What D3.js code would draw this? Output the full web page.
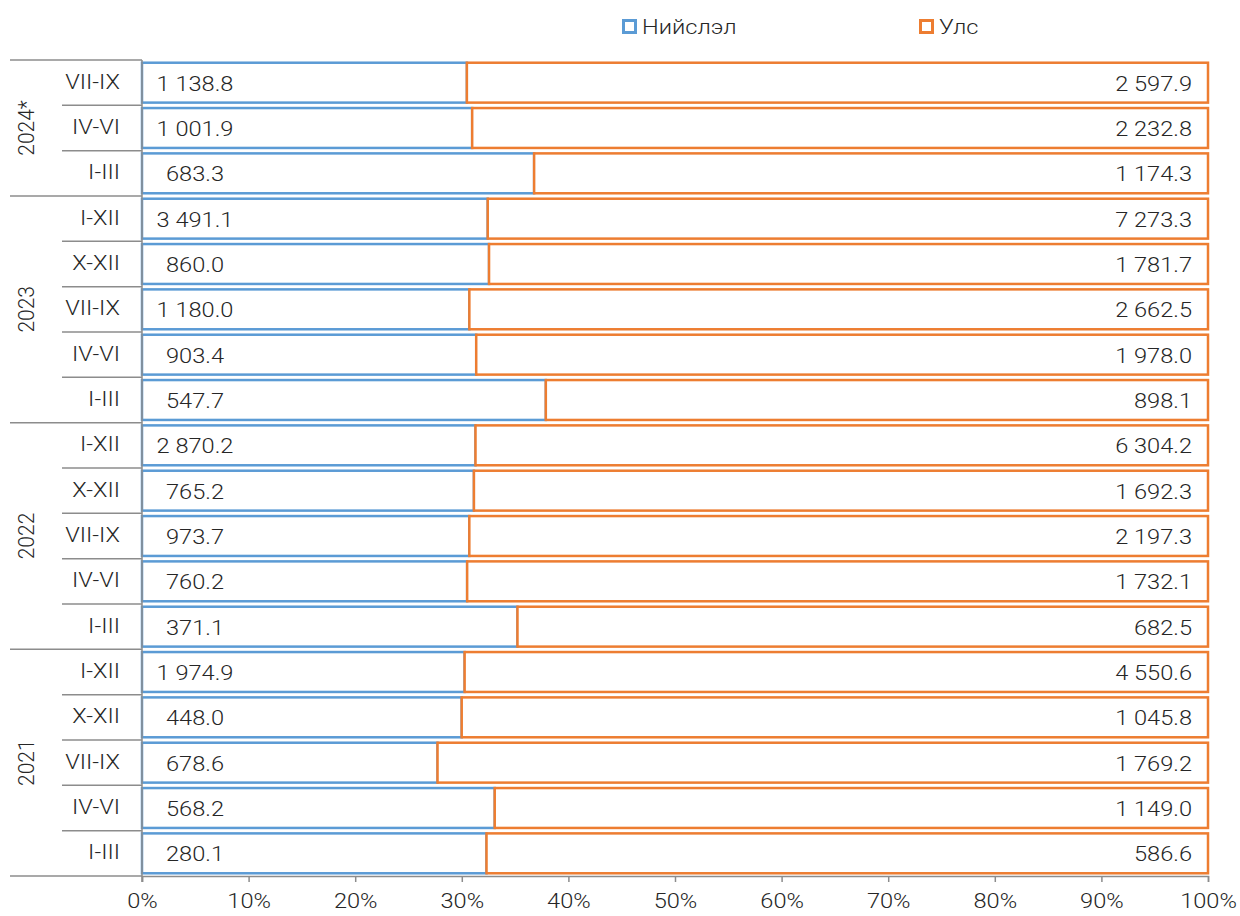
<!DOCTYPE html>
<html>
<head>
<meta charset="utf-8">
<script src="https://cdn.jsdelivr.net/npm/d3@7"></script>
<style>
  body { margin: 0; background: #fff; }
  text { font-family: Roboto, "Open Sans", sans-serif; font-weight: 300; fill: #262626; }
</style>
</head>
<body>
<svg id="chart" width="1240" height="916"></svg>
<script>
// rows top to bottom
let years = ["2024*", "2023", "2022", "2021"];
let yearSizes = [3, 5, 5, 5];
let periods = ["VII-IX", "IV-VI", "I-III",
               "I-XII", "X-XII", "VII-IX", "IV-VI", "I-III",
               "I-XII", "X-XII", "VII-IX", "IV-VI", "I-III",
               "I-XII", "X-XII", "VII-IX", "IV-VI", "I-III"];
let capital = [1138.8, 1001.9, 683.3,
               3491.1, 860.0, 1180.0, 903.4, 547.7,
               2870.2, 765.2, 973.7, 760.2, 371.1,
               1974.9, 448.0, 678.6, 568.2, 280.1];
let country = [2597.9, 2232.8, 1174.3,
               7273.3, 1781.7, 2662.5, 1978.0, 898.1,
               6304.2, 1692.3, 2197.3, 1732.1, 682.5,
               4550.6, 1045.8, 1769.2, 1149.0, 586.6];
let seriesNames = ["Нийслэл", "Улс"];
let colors = ["#5b9bd5", "#ed7d31"];

let svg = d3.select("#chart");
let mLeft = 142, mRight = 1208, mTop = 60, mBottom = 876;
let stretch = 1.18; // the reference text is a bit wider than Roboto

let x = d3.scaleLinear().domain([0, 1]).range([mLeft, mRight]);
let y = d3.scaleBand().domain(d3.range(periods.length)).range([mTop, mBottom])
    .paddingInner(0.12).paddingOuter(0.06);

let fmt = d3.formatLocale({decimal: ".", thousands: "\u00a0", grouping: [3], currency: ["", ""]}).format(",.1f");

let rows = periods.map(function(p, i) {
    let tot = capital[i] + country[i];
    return {i: i, p: p, a: capital[i], b: country[i], share: capital[i] / tot};
});

function place(px, py) {
    return "translate(" + px + "," + py + ") scale(" + stretch + ",1)";
}

// blue segments
svg.append("g").selectAll("rect")
    .data(rows)
    .join("rect")
    .attr("x", x(0))
    .attr("y", d => y(d.i))
    .attr("width", d => x(d.share) - x(0))
    .attr("height", y.bandwidth())
    .style("fill", "#fff")
    .style("stroke", colors[0])
    .style("stroke-width", 2.5);

// orange segments
svg.append("g").selectAll("rect")
    .data(rows)
    .join("rect")
    .attr("x", d => x(d.share))
    .attr("y", d => y(d.i))
    .attr("width", d => x(1) - x(d.share))
    .attr("height", y.bandwidth())
    .style("fill", "#fff")
    .style("stroke", colors[1])
    .style("stroke-width", 2.5);

// value labels
svg.append("g").selectAll("text")
    .data(rows)
    .join("text")
    .attr("transform", d => place(x(0) + 53, y(d.i) + y.bandwidth() / 2 + 1))
    .attr("dy", "0.35em")
    .attr("text-anchor", "middle")
    .style("font-size", "20px")
    .text(d => fmt(d.a));

svg.append("g").selectAll("text")
    .data(rows)
    .join("text")
    .attr("transform", d => place(x(1) - 16, y(d.i) + y.bandwidth() / 2 + 1))
    .attr("dy", "0.35em")
    .attr("text-anchor", "end")
    .style("font-size", "20px")
    .text(d => fmt(d.b));

// bottom axis
let xAxis = d3.axisBottom(x).tickValues(d3.range(0, 1.01, 0.1))
    .tickFormat(d3.format(".0%")).tickSize(6).tickPadding(12);
let gx = svg.append("g").attr("transform", "translate(0," + mBottom + ")").call(xAxis);
gx.select(".domain").attr("stroke", "#8c8c8c").attr("stroke-width", 1.5);
gx.selectAll(".tick line").attr("stroke", "#8c8c8c").attr("stroke-width", 1.5);
gx.selectAll(".tick text").style("font-size", "20px").style("font-family", "Roboto, sans-serif")
    .style("font-weight", 300).attr("fill", "#262626")
    .attr("transform", "scale(" + stretch + ",1)");

// left axis line
svg.append("line")
    .attr("x1", mLeft).attr("x2", mLeft).attr("y1", mTop).attr("y2", mBottom + 6)
    .attr("stroke", "#8c8c8c").attr("stroke-width", 1.5);

// category separators
let step = y.step();
let yearStarts = [];
let acc = 0;
yearSizes.forEach(function(n) { yearStarts.push(acc); acc += n; });
yearStarts.push(acc);

let seps = d3.range(periods.length + 1).map(function(k) {
    return {k: k, year: yearStarts.indexOf(k) >= 0};
});
svg.append("g").selectAll("line")
    .data(seps)
    .join("line")
    .attr("x1", d => d.year ? 10 : 62)
    .attr("x2", mLeft)
    .attr("y1", d => mTop + d.k * step)
    .attr("y2", d => mTop + d.k * step)
    .attr("stroke", "#8c8c8c")
    .attr("stroke-width", 1.5);

// period labels
svg.append("g").selectAll("text")
    .data(rows)
    .join("text")
    .attr("transform", d => place(120, y(d.i) + y.bandwidth() / 2 - 1))
    .attr("dy", "0.35em")
    .attr("text-anchor", "end")
    .style("font-size", "20px")
    .text(d => d.p);

// year labels
svg.append("g").selectAll("text")
    .data(years)
    .join("text")
    .attr("transform", function(d, i) {
        let cy = mTop + (yearStarts[i] + yearSizes[i] / 2) * step;
        return "translate(26," + cy + ") scale(1.08,1) rotate(-90)";
    })
    .attr("dy", "0.35em")
    .attr("text-anchor", "middle")
    .style("font-size", "21px")
    .text(d => d);

// legend
let legendX = [622, 919];
let lg = svg.append("g").selectAll("g")
    .data(seriesNames)
    .join("g")
    .attr("transform", (d, i) => "translate(" + legendX[i] + ",19)");
lg.append("rect")
    .attr("x", 1.5).attr("y", 1.5).attr("width", 12).attr("height", 12)
    .style("fill", "#fff")
    .style("stroke", (d, i) => colors[i])
    .style("stroke-width", 3);
lg.append("text")
    .attr("transform", place(20, 8))
    .attr("dy", "0.35em")
    .style("font-size", "20px")
    .text(d => d);
</script>
</body>
</html>
